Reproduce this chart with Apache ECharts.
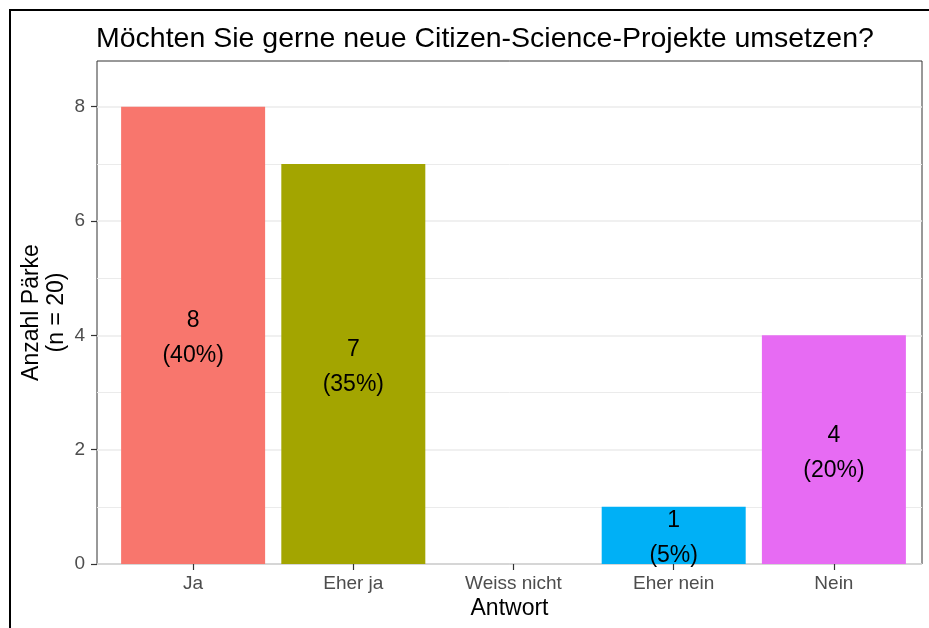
<!DOCTYPE html>
<html>
<head>
<meta charset="utf-8">
<script src="https://cdn.jsdelivr.net/npm/echarts@6/dist/echarts.min.js"></script>
<style>
html,body{margin:0;padding:0;overflow:hidden;background:#fff;}
#chart{width:929px;height:628px;}
#frame{position:absolute;left:9px;top:9px;width:1000px;height:1000px;border:2px solid #000;pointer-events:none;}
</style>
</head>
<body>
<div id="chart"></div>
<div id="frame"></div>
<script>
var categories = ['Ja', 'Eher ja', 'Weiss nicht', 'Eher nein', 'Nein'];
var counts = [8, 7, 0, 1, 4];
var percents = [40, 35, 0, 5, 20];
var colors = ['#F8766D', '#A3A500', '#00BF7D', '#00B0F6', '#E76BF3'];
var yTicks = [0, 2, 4, 6, 8];

var FONT = '"Liberation Sans", Arial, Helvetica, sans-serif';
var chart = echarts.init(document.getElementById('chart'), null, {renderer: 'canvas'});

var barData = categories.map(function (c, i) {
  return {
    value: [i + 1, counts[i]],
    itemStyle: {color: colors[i]},
    label: {show: counts[i] > 0}
  };
});

chart.setOption({
  animation: false,
  backgroundColor: '#fff',
  title: {
    text: 'Möchten Sie gerne neue Citizen-Science-Projekte umsetzen?',
    left: 96, top: 25, padding: 0,
    textStyle: {fontFamily: FONT, fontSize: 28.5, fontWeight: 'normal', color: '#000'}
  },
  grid: {
    left: 97, right: 7, top: 61, bottom: 64,
    show: true, borderColor: '#333', borderWidth: 1, backgroundColor: 'transparent'
  },
  xAxis: {
    type: 'value', min: 0.4, max: 5.55,
    name: 'Antwort', nameLocation: 'middle', nameGap: 33, nameMoveOverlap: false,
    nameTextStyle: {fontFamily: FONT, fontSize: 23, color: '#000'},
    axisLine: {show: false},
    splitLine: {show: false},
    axisTick: {show: true, length: 6, customValues: [1, 2, 3, 4, 5], lineStyle: {color: '#333', width: 1.2}},
    axisLabel: {
      customValues: [1, 2, 3, 4, 5], margin: 10,
      fontFamily: FONT, fontSize: 19, color: '#4D4D4D',
      formatter: function (v) { return categories[Math.round(v) - 1] || ''; }
    }
  },
  yAxis: {
    type: 'value', min: 0, max: 8.8, interval: 2,
    name: 'Anzahl Pärke\n(n = 20)', nameLocation: 'middle', nameGap: 28, nameRotate: 90,
    nameMoveOverlap: false,
    nameTextStyle: {fontFamily: FONT, fontSize: 23, color: '#000', lineHeight: 25},
    axisLine: {show: false},
    axisTick: {show: true, length: 6, customValues: yTicks, lineStyle: {color: '#333', width: 1.2}},
    axisLabel: {customValues: yTicks, margin: 12, fontFamily: FONT, fontSize: 19, color: '#4D4D4D'},
    splitLine: {show: true, lineStyle: {color: '#EBEBEB', width: 1.5}},
    minorTick: {show: false, splitNumber: 2},
    minorSplitLine: {show: true, lineStyle: {color: '#EBEBEB', width: 1}}
  },
  series: [{
    type: 'bar',
    barWidth: 144,
    data: barData,
    label: {
      show: true, position: 'inside', offset: [0, 3],
      fontFamily: FONT, fontSize: 23, color: '#000', lineHeight: 35,
      formatter: function (p) {
        var i = p.dataIndex;
        return counts[i] + '\n(' + percents[i] + '%)';
      }
    }
  }]
});
</script>
</body>
</html>
